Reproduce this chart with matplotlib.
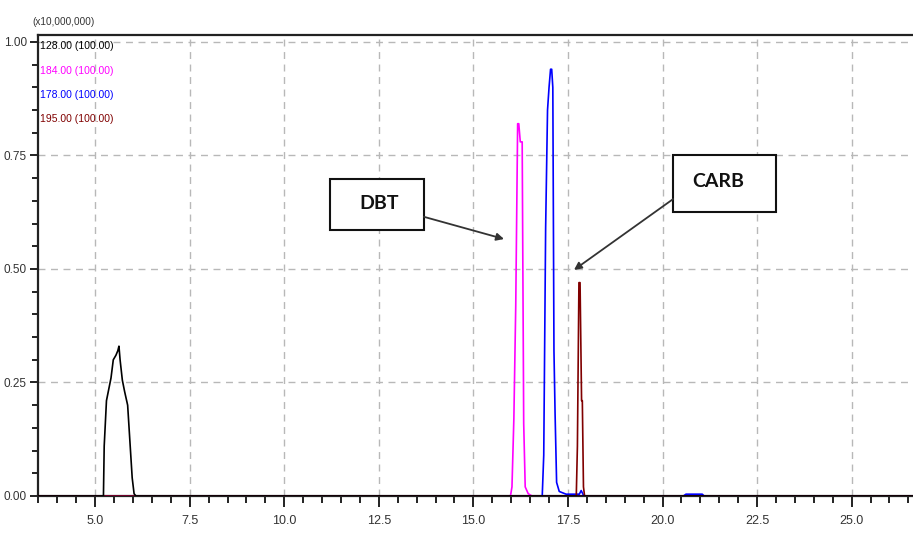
import matplotlib
matplotlib.use("Agg")
import matplotlib.pyplot as plt
from matplotlib.ticker import MultipleLocator, FixedLocator
from matplotlib.patches import Rectangle

# ---- data (retention time in min, intensity in x10,000,000) ----
# m/z 128 (black)
t_128 = [3.49, 5.22, 5.24, 5.27, 5.30, 5.36, 5.42, 5.48, 5.55, 5.60, 5.63, 5.66, 5.72, 5.78, 5.86, 5.92, 5.98, 6.03, 6.08, 26.7]
i_128 = [0.0, 0.0, 0.11, 0.16, 0.21, 0.235, 0.26, 0.30, 0.31, 0.32, 0.33, 0.30, 0.255, 0.23, 0.20, 0.12, 0.04, 0.005, 0.0, 0.0]
# m/z 184 (magenta, DBT)
t_184 = [3.49, 15.98, 16.02, 16.07, 16.12, 16.17, 16.20, 16.24, 16.29, 16.33, 16.37, 16.45, 16.55, 26.7]
i_184 = [0.0, 0.0, 0.02, 0.17, 0.42, 0.82, 0.82, 0.78, 0.78, 0.16, 0.02, 0.005, 0.0, 0.0]
# m/z 178 (blue)
t_178 = [3.49, 16.82, 16.86, 16.91, 16.96, 17.00, 17.04, 17.07, 17.10, 17.13, 17.16, 17.20, 17.27, 17.45, 17.80, 17.85, 17.92, 20.55, 20.62, 21.05, 21.10, 26.7]
i_178 = [0.0, 0.0, 0.09, 0.59, 0.85, 0.90, 0.94, 0.94, 0.90, 0.32, 0.18, 0.03, 0.01, 0.004, 0.004, 0.012, 0.0, 0.0, 0.004, 0.004, 0.0, 0.0]
# m/z 195 (dark red, CARB)
t_195 = [3.49, 17.72, 17.75, 17.79, 17.82, 17.86, 17.88, 17.91, 17.94, 26.7]
i_195 = [0.0, 0.0, 0.11, 0.47, 0.47, 0.21, 0.21, 0.02, 0.0, 0.0]

series_labels = ["128.00 (100.00)", "184.00 (100.00)", "178.00 (100.00)", "195.00 (100.00)"]
series_colors = ["#000000", "#ff00ff", "#0000ff", "#800000"]

x_ticks = [5.0, 7.5, 10.0, 12.5, 15.0, 17.5, 20.0, 22.5, 25.0]
y_ticks = [0.00, 0.25, 0.50, 0.75, 1.00]

ann_names = ["DBT", "CARB"]

# ---- figure ----
W, H = 913, 536
fig = plt.figure(figsize=(W / 100, H / 100), dpi=100)
ax_left, ax_bottom = 38 / W, 1 - 496 / H
ax = fig.add_axes([ax_left, ax_bottom, 1.0 - ax_left + 0.002, (496 - 35) / H])

tickfont = ["Liberation Sans", "DejaVu Sans"]

series = [(t_128, i_128), (t_184, i_184), (t_178, i_178), (t_195, i_195)]
order = [1, 2, 3, 0]
for k in order:
    t, i = series[k]
    ax.plot(t, i, color=series_colors[k], lw=1.2, zorder=3 + (k == 0))

ax.set_xlim(3.49, 26.67)
ax.set_ylim(0.0, 1.0154)

ax.xaxis.set_major_locator(FixedLocator(x_ticks))
ax.xaxis.set_minor_locator(MultipleLocator(0.5))
ax.yaxis.set_major_locator(FixedLocator(y_ticks))
ax.yaxis.set_minor_locator(MultipleLocator(0.05))
ax.set_xticklabels([f"{v:.1f}" for v in x_ticks], family=tickfont, fontsize=9, color="#333333")
ax.set_yticklabels([f"{v:.2f}" for v in y_ticks], family=tickfont, fontsize=8.5, color="#333333")

ax.tick_params(axis="x", which="major", direction="out", length=8, width=1.4, pad=6, color="#222222")
ax.tick_params(axis="x", which="minor", direction="out", length=5, width=1.4, color="#222222")
ax.tick_params(axis="y", which="major", direction="out", length=6, width=1.4, pad=2, color="#222222")
ax.tick_params(axis="y", which="minor", direction="out", length=4, width=1.4, color="#222222")

ax.grid(True, which="major", color="#b8b8b8", linestyle=(0, (5, 4)), lw=1.0, zorder=0)
ax.set_axisbelow(True)

for s in ["left", "top", "bottom"]:
    ax.spines[s].set_linewidth(1.6)
    ax.spines[s].set_color("#222222")
ax.spines["right"].set_visible(False)

# top-left series labels
for n, (lab, col) in enumerate(zip(series_labels, series_colors)):
    ax.text(40 / W, 1 - (46 + n * 24.5) / H, lab, transform=fig.transFigure,
            family=tickfont, fontsize=7.5, color=col, va="center", ha="left")

fig.text(32 / W, 1 - 22 / H, "(x10,000,000)", family=tickfont, fontsize=7.2,
         color="#333333", va="center", ha="left")

# annotation boxes
boxes = [((11.20, 0.586), 13.69 - 11.20, 0.698 - 0.586, (12.50, 0.645), (13.69, 0.615), (15.81, 0.566)),
         ((20.28, 0.626), 23.01 - 20.28, 0.751 - 0.626, (21.48, 0.692), (20.28, 0.654), (17.66, 0.498))]
for name, (xy, w, h, txy, a0, a1) in zip(ann_names, boxes):
    ax.add_patch(Rectangle(xy, w, h, facecolor="white", edgecolor="#111111", lw=1.5, zorder=6))
    ax.text(txy[0], txy[1], name, family=["Lato", "DejaVu Sans"], fontweight="bold",
            fontsize=14, color="#111111", ha="center", va="center", zorder=7)
    ax.annotate("", xy=a1, xytext=a0,
                arrowprops=dict(arrowstyle="-|>", color="#333333", lw=1.3, mutation_scale=11,
                                shrinkA=0, shrinkB=0), zorder=6)

fig.savefig("out.png", dpi=100)
